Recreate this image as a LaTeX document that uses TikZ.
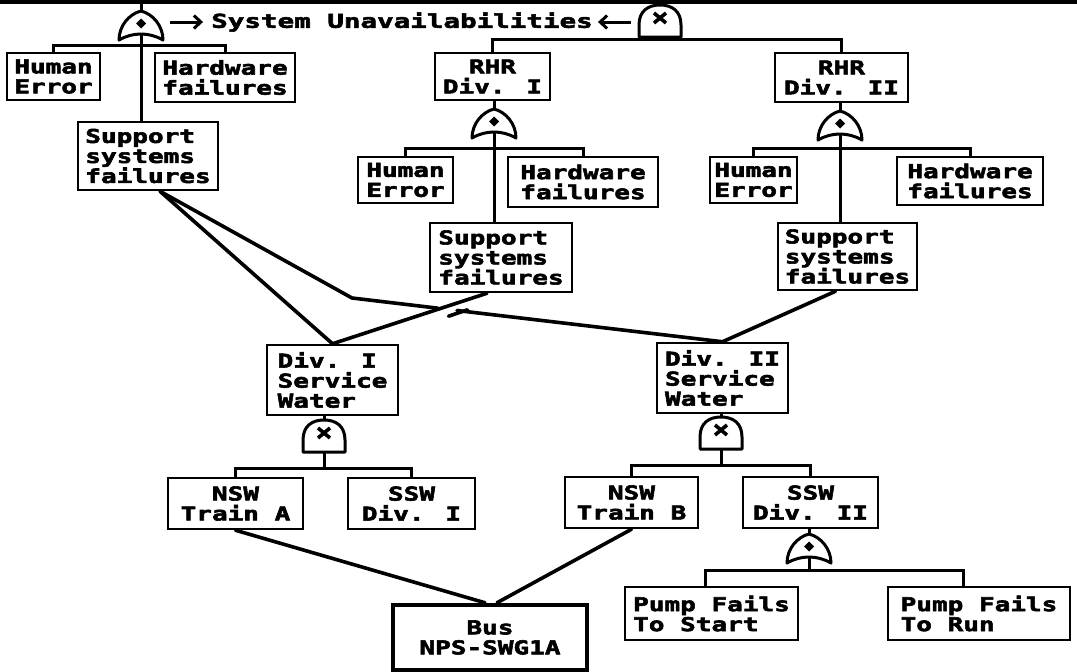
\documentclass[tikz,border=0pt]{standalone}
\usepackage{fontspec}
\newfontfamily\dfont{DejaVu Sans Mono}[FakeStretch=1.37,BoldFeatures={FakeBold=3}]
\newfontfamily\tfont{DejaVu Sans Mono}[FakeStretch=1.45,BoldFeatures={FakeBold=3}]
\usetikzlibrary{arrows.meta,calc}
\begin{document}
\begin{tikzpicture}[x=1pt,y=-1pt,
  box/.style={draw,line width=2.5pt,inner sep=0pt,align=center,font={\dfont\bfseries\fontsize{19}{20}\selectfont}},
  lbox/.style={box,align=left},
  con/.style={line width=3pt},
  slant/.style={line width=3.6pt,line join=round,line cap=round},
  gate/.style={line width=3pt,line join=round},
  arr/.style={line width=3pt,-{Straight Barb[length=7pt,width=13pt,line width=3pt]}},
  orgate/.pic={
    \draw[gate,fill=white] (-22,0) .. controls (-22,-14) and (-12,-26) .. (0,-29) .. controls (12,-26) and (22,-14) .. (22,0) .. controls (8,-8) and (-8,-8) .. (-22,0) -- cycle;
    \fill (0,-21.5) -- (5,-16.5) -- (0,-11.5) -- (-5,-16.5) -- cycle;
    \coordinate (-top) at (0,-29);
    \coordinate (-bot) at (0,-6);
  },
  andgate/.pic={
    \draw[gate,fill=white] (-21,0) -- (-21,-12) .. controls (-21,-26) and (-12,-32) .. (0,-32) .. controls (12,-32) and (21,-26) .. (21,-12) -- (21,0) -- cycle;
    \draw[line width=3.6pt] (-6,-24) -- (6,-14) (-6,-14) -- (6,-24);
    \coordinate (-top) at (0,-32);
    \coordinate (-bot) at (0,0);
  }]
\useasboundingbox (0,0) rectangle (1077,672);
\fill[white] (0,0) rectangle (1077,672);

% top border line
\coordinate (tl) at (0,2);
\coordinate (tr) at (1077,2);
\draw[line width=4pt] (tl) -- (tr);

% gates
\pic (g1) at (141,40) {orgate};
\pic (g2) at (660,37) {andgate};
\pic (g3) at (494,138) {orgate};
\pic (g4) at (840,140) {orgate};
\pic (g5) at (324,452) {andgate};
\pic (g6) at (721,449) {andgate};
\pic (g7) at (809,563) {orgate};

% title
\node[inner sep=0pt,font={\tfont\bfseries\fontsize{19}{20}\selectfont}] (title) at (402,22) {System Unavailabilities};
\draw[arr] ($(title.west)+(-41,0)$) -- ($(title.west)+(-8,0)$);
\draw[arr] ($(title.east)+(38,0)$) -- ($(title.east)+(5,0)$);

% boxes
\node[lbox,minimum width=93pt,minimum height=47pt] (heA) at (53.5,76.5) {Human\\Error};
\node[lbox,minimum width=140pt,minimum height=49pt] (hwA) at (225,77.5) {Hardware\\failures};
\node[lbox,minimum width=140pt,minimum height=68pt] (ssA) at (148,156) {Support\\systems\\failures};
\node[box,minimum width=115pt,minimum height=47pt] (rhr1) at (492.5,76.5) {RHR\\Div. I};
\node[box,minimum width=133pt,minimum height=49pt] (rhr2) at (841.5,77.5) {RHR\\Div. II};
\node[lbox,minimum width=95pt,minimum height=46pt] (heB) at (405.5,180) {Human\\Error};
\node[lbox,minimum width=150pt,minimum height=50pt] (hwB) at (583,182) {Hardware\\failures};
\node[lbox,minimum width=142pt,minimum height=69pt] (ssB) at (501,257.5) {Support\\systems\\failures};
\node[lbox,minimum width=87pt,minimum height=46pt] (heC) at (753.5,180) {Human\\Error};
\node[lbox,minimum width=146pt,minimum height=48pt] (hwC) at (970,181) {Hardware\\failures};
\node[lbox,minimum width=139pt,minimum height=67pt] (ssC) at (847.5,256.5) {Support\\systems\\failures};
\node[lbox,minimum width=131pt,minimum height=70pt] (sw1) at (332.5,380) {Div. I\\Service\\Water};
\node[lbox,minimum width=131pt,minimum height=70pt] (sw2) at (722.5,378) {Div. II\\Service\\Water};
\node[box,minimum width=135pt,minimum height=51pt] (nswA) at (235.5,503.5) {NSW\\Train A};
\node[box,minimum width=127pt,minimum height=51pt] (ssw1) at (411.5,503.5) {SSW\\Div. I};
\node[box,minimum width=133pt,minimum height=51pt] (nswB) at (631.5,502.5) {NSW\\Train B};
\node[box,minimum width=135pt,minimum height=51pt] (ssw2) at (810.5,502.5) {SSW\\Div. II};
\node[lbox,minimum width=173pt,minimum height=53pt] (pfs) at (711.5,613.5) {Pump Fails\\To Start};
\node[lbox,minimum width=182pt,minimum height=53pt] (pfr) at (979,613.5) {Pump Fails\\To Run};
\node[box,line width=4.5pt,minimum width=194pt,minimum height=65pt] (bus) at (490,637.5) {Bus\\NPS-SWG1A};

% top OR gate
\draw[con] (g1-top) -- (g1-top |- tl);
\draw[con] (heA.north) -- ++(0,-6) -| (hwA.north);
\draw[con] (g1-bot) -- (g1-bot |- ssA.north);

% top AND gate
\draw[con] (g2-top) -- (g2-top |- tl);
\draw[con] (g2-bot) -- ++(0,4);
\draw[con] (rhr1.north) -- ++(0,-12) -| (rhr2.north);

% RHR Div. I
\draw[con] (rhr1.south -| g3-top) -- (g3-top);
\draw[con] (heB.north) -- ++(0,-7) -| (hwB.north);
\draw[con] (g3-bot) -- (g3-bot |- ssB.north);

% RHR Div. II
\draw[con] (rhr2.south -| g4-top) -- (g4-top);
\draw[con] (heC.north) -- ++(0,-7) -| (hwC.north);
\draw[con] (g4-bot) -- (g4-bot |- ssC.north);

% support systems to service water
\coordinate (sA) at ($(ssA.south)+(12,0)$);
\coordinate (bend) at (352,298);
\coordinate (jx1) at (438,308.2);
\coordinate (jx2) at (457,310.5);
\draw[slant] (sA) -- (sw1.north);
\draw[slant] (sA) -- (bend) -- (jx1);
\draw[slant] (jx2) -- (sw2.north);
\draw[slant] ($(ssB.south)+(-14,0)$) -- (sw1.north);
\draw[slant] (448.5,316.2) -- (467.5,309.8);
\draw[slant] ($(ssC.south)+(-12,0)$) -- (sw2.north);

% Div. I service water
\draw[con] (sw1.south -| g5-top) -- (g5-top);
\draw[con] (nswA.north) -- ++(0,-8) -| (ssw1.north);
\draw[con] (g5-bot) -- ++(0,18);

% Div. II service water
\draw[con] (sw2.south -| g6-top) -- (g6-top);
\draw[con] (nswB.north) -- ++(0,-10) -| (ssw2.north);
\draw[con] (g6-bot) -- ++(0,18);

% SSW Div. II
\draw[con] (ssw2.south -| g7-top) -- (g7-top);
\draw[con] ($(pfs.north)+(-6,0)$) -- ++(0,-15) -| ($(pfr.north)+(-16,0)$);
\draw[con] (g7-bot) -- ++(0,15);

% bus
\draw[slant] (nswA.south) -- ($(bus.north)+(-5,0)$);
\draw[slant] (nswB.south) -- ($(bus.north)+(7,0)$);
\end{tikzpicture}
\end{document}
